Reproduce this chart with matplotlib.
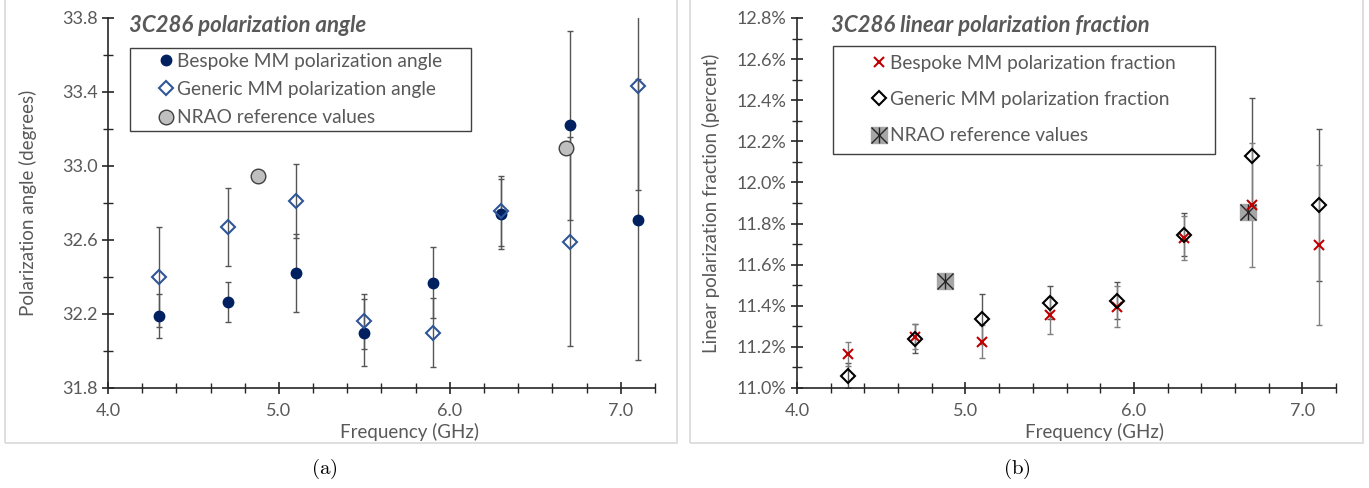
import matplotlib.pyplot as plt
from matplotlib.ticker import MultipleLocator, FixedLocator, FuncFormatter
from matplotlib.patches import Rectangle

# frequencias (GHz)
freq = [4.3, 4.7, 5.1, 5.5, 5.9, 6.3, 6.7, 7.1]

# angulo de polarizacao (graus)
ang_bespoke = [32.19, 32.265, 32.42, 32.10, 32.37, 32.74, 33.22, 32.71]
ang_bespoke_err = [0.12, 0.11, 0.21, 0.18, 0.19, 0.19, 0.51, 0.76]
ang_generic = [32.40, 32.67, 32.81, 32.16, 32.10, 32.755, 32.59, 33.43]
ang_generic_err = [0.27, 0.21, 0.20, 0.15, 0.185, 0.19, 0.565, 0.56]

# fracao de polarizacao linear (%)
frac_bespoke = [11.165, 11.25, 11.225, 11.355, 11.395, 11.73, 11.89, 11.695]
frac_bespoke_err = [0.06, 0.06, 0.08, 0.09, 0.10, 0.105, 0.30, 0.39]
frac_generic = [11.06, 11.24, 11.335, 11.415, 11.425, 11.745, 12.13, 11.89]
frac_generic_err = [0.06, 0.07, 0.12, 0.08, 0.09, 0.105, 0.28, 0.37]

# valores de referencia NRAO
nrao_freq = [4.88, 6.68]
nrao_ang = [32.945, 33.095]
nrao_frac = [11.52, 11.855]

ang_ticks = [31.8, 32.2, 32.6, 33.0, 33.4, 33.8]

plt.rcParams['font.family'] = ['Lato', 'DejaVu Sans']
plt.rcParams['mathtext.fontset'] = 'cm'
cinza = '#595959'
W, H = 1369, 488

fig = plt.figure(figsize=(13.69, 4.88), dpi=100)


def px(x0, y0, x1, y1):
    # caixa em pixels (origem no topo) -> fracao da figura
    return [x0 / W, 1 - y1 / H, (x1 - x0) / W, (y1 - y0) / H]


# molduras dos paineis
for caixa in [(5, -5, 677, 443), (690, -5, 1363, 443)]:
    x, y, w, h = px(*caixa)
    fig.patches.append(Rectangle((x, y), w, h, transform=fig.transFigure,
                                 fill=False, edgecolor='#d9d9d9', lw=1.2))

ax1 = fig.add_axes(px(108, 18, 655, 388))
ax2 = fig.add_axes(px(797, 18, 1336, 388))


def estilo(ax, ylab_x):
    for s in ['top', 'right']:
        ax.spines[s].set_visible(False)
    for s in ['left', 'bottom']:
        ax.spines[s].set_color('#262626')
        ax.spines[s].set_linewidth(1.2)
    ax.set_xlim(4.0, 7.2)
    ax.xaxis.set_major_locator(MultipleLocator(1.0))
    ax.xaxis.set_minor_locator(MultipleLocator(0.2))
    ax.xaxis.set_major_formatter(FuncFormatter(lambda v, p: '{:.1f}'.format(v)))
    ax.tick_params(which='both', direction='inout', colors='#262626', labelcolor=cinza,
                   labelsize=13)
    ax.tick_params(which='major', length=8, width=1.2)
    ax.tick_params(which='minor', length=7, width=1)
    ax.tick_params(axis='x', pad=7)
    ax.set_xlabel('Frequency (GHz)', color=cinza, fontsize=13.5)
    ax.xaxis.set_label_coords(0.552, -0.118)
    ax.xaxis.label.set_va('center')
    ax.yaxis.set_label_coords(ylab_x, 0.5)
    ax.yaxis.label.set_va('center')


def caixa_legenda(x0, y0, x1, y1):
    x, y, w, h = px(x0, y0, x1, y1)
    fig.patches.append(Rectangle((x, y), w, h, transform=fig.transFigure, fill=False,
                                 edgecolor='#404040', lw=1, zorder=10))


# painel (a) - angulo
ax1.errorbar(freq, ang_generic, yerr=ang_generic_err, fmt='none', ecolor='#555555',
             elinewidth=1, capsize=2, zorder=2)
ax1.errorbar(freq, ang_bespoke, yerr=ang_bespoke_err, fmt='none', ecolor='#555555',
             elinewidth=1, capsize=2, zorder=2)
ax1.plot(freq, ang_bespoke, 'o', color='#002060', ms=7.5, ls='none', zorder=3,
         label='Bespoke MM polarization angle')
ax1.plot(freq, ang_generic, 'D', mfc='none', mec='#2f5597', mew=1.5, ms=7, ls='none', zorder=4,
         label='Generic MM polarization angle')
ax1.plot(nrao_freq, nrao_ang, 'o', mfc='#bfbfbf', mec='#404040', ms=10.5, ls='none', zorder=3,
         label='NRAO reference values')
ax1.set_ylim(31.8, 33.8)
ax1.yaxis.set_major_locator(FixedLocator(ang_ticks))
ax1.yaxis.set_minor_locator(MultipleLocator(0.2))
ax1.yaxis.set_major_formatter(FuncFormatter(lambda v, p: '{:.1f}'.format(v)))
ax1.set_ylabel('Polarization angle (degrees)', color=cinza, fontsize=13.5)
estilo(ax1, -0.146)
ax1.text(0.038, 0.981, '3C286 polarization angle', transform=ax1.transAxes, fontsize=16,
         fontweight='bold', style='italic', color=cinza, va='center')
leg1 = ax1.legend(loc='upper left', bbox_to_anchor=(158 / W, 1 - 53 / H),
                  bbox_transform=fig.transFigure, frameon=False, fontsize=13.8,
                  handletextpad=0.2, handlelength=0.8, labelspacing=0.58, borderpad=0,
                  borderaxespad=0)
for t in leg1.get_texts():
    t.set_color(cinza)
caixa_legenda(130, 48, 471, 131)

# painel (b) - fracao
ax2.errorbar(freq, frac_generic, yerr=frac_generic_err, fmt='none', ecolor='#555555',
             elinewidth=1, capsize=2, zorder=2)
ax2.errorbar(freq, frac_bespoke, yerr=frac_bespoke_err, fmt='none', ecolor='#7f7f7f',
             elinewidth=1, capsize=2, zorder=2)
h_nrao_s, = ax2.plot(nrao_freq, nrao_frac, 's', mfc='#a6a6a6', mec='#a6a6a6', ms=11.5, ls='none',
                     zorder=3)
h_nrao_x, = ax2.plot(nrao_freq, nrao_frac, 'x', color='#262626', ms=11, mew=1, ls='none', zorder=3)
h_nrao_l, = ax2.plot(nrao_freq, nrao_frac, '|', color='#262626', ms=11, mew=1, ls='none', zorder=3)
h_b, = ax2.plot(freq, frac_bespoke, 'x', color='#c00000', ms=7, mew=1.5, ls='none', zorder=4)
h_g, = ax2.plot(freq, frac_generic, 'D', mfc='none', mec='black', mew=1.5, ms=7, ls='none',
                zorder=5)
ax2.set_ylim(11.0, 12.8)
ax2.yaxis.set_major_locator(MultipleLocator(0.2))
ax2.yaxis.set_minor_locator(MultipleLocator(0.1))
ax2.yaxis.set_major_formatter(FuncFormatter(lambda v, p: '{:.1f}%'.format(v)))
ax2.set_ylabel('Linear polarization fraction (percent)', color=cinza, fontsize=13.5)
estilo(ax2, -0.160)
ax2.text(0.063, 0.981, '3C286 linear polarization fraction', transform=ax2.transAxes,
         fontsize=16, fontweight='bold', style='italic', color=cinza, va='center')
leg2 = ax2.legend([h_b, h_g, (h_nrao_s, h_nrao_x, h_nrao_l)],
                  ['Bespoke MM polarization fraction', 'Generic MM polarization fraction',
                   'NRAO reference values'],
                  loc='upper left', bbox_to_anchor=(871 / W, 1 - 55 / H),
                  bbox_transform=fig.transFigure, frameon=False, fontsize=13.8,
                  handletextpad=0.2, handlelength=0.8, labelspacing=1.0, borderpad=0,
                  borderaxespad=0)
for t in leg2.get_texts():
    t.set_color(cinza)
caixa_legenda(833, 46, 1215, 154)

# legendas das figuras
fig.text(324 / W, 1 - 469 / H, r'$(\mathrm{a})$', ha='center', va='center', fontsize=15)
fig.text(1017 / W, 1 - 469 / H, r'$(\mathrm{b})$', ha='center', va='center', fontsize=15)

fig.savefig('out.png', dpi=100)
